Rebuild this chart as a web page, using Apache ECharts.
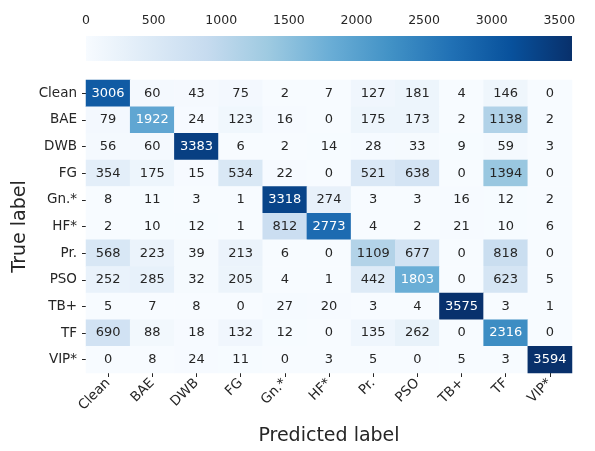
<!DOCTYPE html>
<html>
<head>
<meta charset="utf-8">
<script src="https://cdn.jsdelivr.net/npm/echarts@6/dist/echarts.min.js"></script>
<style>
html,body{margin:0;padding:0;background:#fff;}
#chart{width:595px;height:451px;}
</style>
</head>
<body>
<div id="chart"></div>
<script>
const categories = ['Clean','BAE','DWB','FG','Gn.*','HF*','Pr.','PSO','TB+','TF','VIP*'];
const rowClean = [3006, 60, 43, 75, 2, 7, 127, 181, 4, 146, 0];
const rowBAE   = [79, 1922, 24, 123, 16, 0, 175, 173, 2, 1138, 2];
const rowDWB   = [56, 60, 3383, 6, 2, 14, 28, 33, 9, 59, 3];
const rowFG    = [354, 175, 15, 534, 22, 0, 521, 638, 0, 1394, 0];
const rowGn    = [8, 11, 3, 1, 3318, 274, 3, 3, 16, 12, 2];
const rowHF    = [2, 10, 12, 1, 812, 2773, 4, 2, 21, 10, 6];
const rowPr    = [568, 223, 39, 213, 6, 0, 1109, 677, 0, 818, 0];
const rowPSO   = [252, 285, 32, 205, 4, 1, 442, 1803, 0, 623, 5];
const rowTB    = [5, 7, 8, 0, 27, 20, 3, 4, 3575, 3, 1];
const rowTF    = [690, 88, 18, 132, 12, 0, 135, 262, 0, 2316, 0];
const rowVIP   = [0, 8, 24, 11, 0, 3, 5, 0, 5, 3, 3594];
const matrix = [rowClean,rowBAE,rowDWB,rowFG,rowGn,rowHF,rowPr,rowPSO,rowTB,rowTF,rowVIP];
const colorbarTicks = [0, 500, 1000, 1500, 2000, 2500, 3000, 3500];

const blues = ['#f7fbff','#deebf7','#c6dbef','#9ecae1','#6baed6','#4292c6','#2171b5','#08519c','#08306b'];
const flat = matrix.flat();
const vmin = 0;
const vmax = Math.max(...flat);

const data = [];
matrix.forEach((row, r) => {
  row.forEach((v, c) => {
    data.push({
      value: [c, r, v],
      label: { color: v / vmax > 0.45 ? '#ffffff' : '#262626' }
    });
  });
});

const FONT = 'DejaVu Sans';
const chart = echarts.init(document.getElementById('chart'), null, {renderer: 'canvas'});
chart.setOption({
  animation: false,
  backgroundColor: '#fff',
  textStyle: { fontFamily: FONT },
  grid: [
    { left: 86, top: 80, width: 486, height: 296 },
    { left: 86, top: 36, width: 486, height: 25 }
  ],
  xAxis: [
    {
      type: 'category', data: categories, gridIndex: 0, position: 'bottom',
      axisLine: { show: false },
      axisTick: { show: true, alignWithLabel: true, length: 4, lineStyle: { color: '#262626', width: 1 } },
      axisLabel: { rotate: 45, fontSize: 13.5, color: '#262626', fontFamily: FONT, margin: 8 },
      splitLine: { show: false },
      name: 'Predicted label', nameLocation: 'middle', nameGap: 54,
      nameTextStyle: { fontSize: 19, color: '#262626', fontFamily: FONT }
    },
    {
      type: 'value', gridIndex: 1, position: 'top', min: vmin, max: vmax, interval: 500,
      axisLine: { show: false },
      axisTick: { show: true, length: 4, customValues: colorbarTicks, lineStyle: { color: '#262626' } },
      axisLabel: { fontSize: 12.5, color: '#262626', fontFamily: FONT, margin: 9,
        customValues: colorbarTicks, formatter: v => String(v) },
      splitLine: { show: false }
    }
  ],
  yAxis: [
    {
      type: 'category', data: categories, gridIndex: 0, inverse: true,
      axisLine: { show: false },
      axisTick: { show: true, alignWithLabel: true, length: 4, lineStyle: { color: '#262626', width: 1 } },
      axisLabel: { fontSize: 13.5, color: '#262626', fontFamily: FONT, margin: 9 },
      splitLine: { show: false },
      name: 'True label', nameLocation: 'middle', nameGap: 56, nameMoveOverlap: false,
      nameTextStyle: { fontSize: 19, color: '#262626', fontFamily: FONT }
    },
    { type: 'value', gridIndex: 1, min: 0, max: 1, show: false }
  ],
  visualMap: {
    show: false, type: 'continuous', min: vmin, max: vmax, seriesIndex: 0, dimension: 2,
    inRange: { color: blues }
  },
  series: [
    {
      type: 'heatmap', xAxisIndex: 0, yAxisIndex: 0, data: data,
      label: { show: true, fontSize: 13, fontFamily: FONT, formatter: p => String(p.value[2]) },
      itemStyle: { borderWidth: 0 },
      emphasis: { disabled: true }
    },
    {
      type: 'custom', xAxisIndex: 1, yAxisIndex: 1, data: [[vmin, vmax]],
      renderItem: function (params, api) {
        const p0 = api.coord([api.value(0), 0]);
        const p1 = api.coord([api.value(1), 1]);
        return {
          type: 'rect',
          shape: { x: p0[0], y: p1[1], width: p1[0] - p0[0], height: p0[1] - p1[1] },
          style: { fill: new echarts.graphic.LinearGradient(0, 0, 1, 0,
            blues.map((c, i) => ({ offset: i / (blues.length - 1), color: c }))) }
        };
      },
      silent: true
    }
  ]
});
</script>
</body>
</html>
